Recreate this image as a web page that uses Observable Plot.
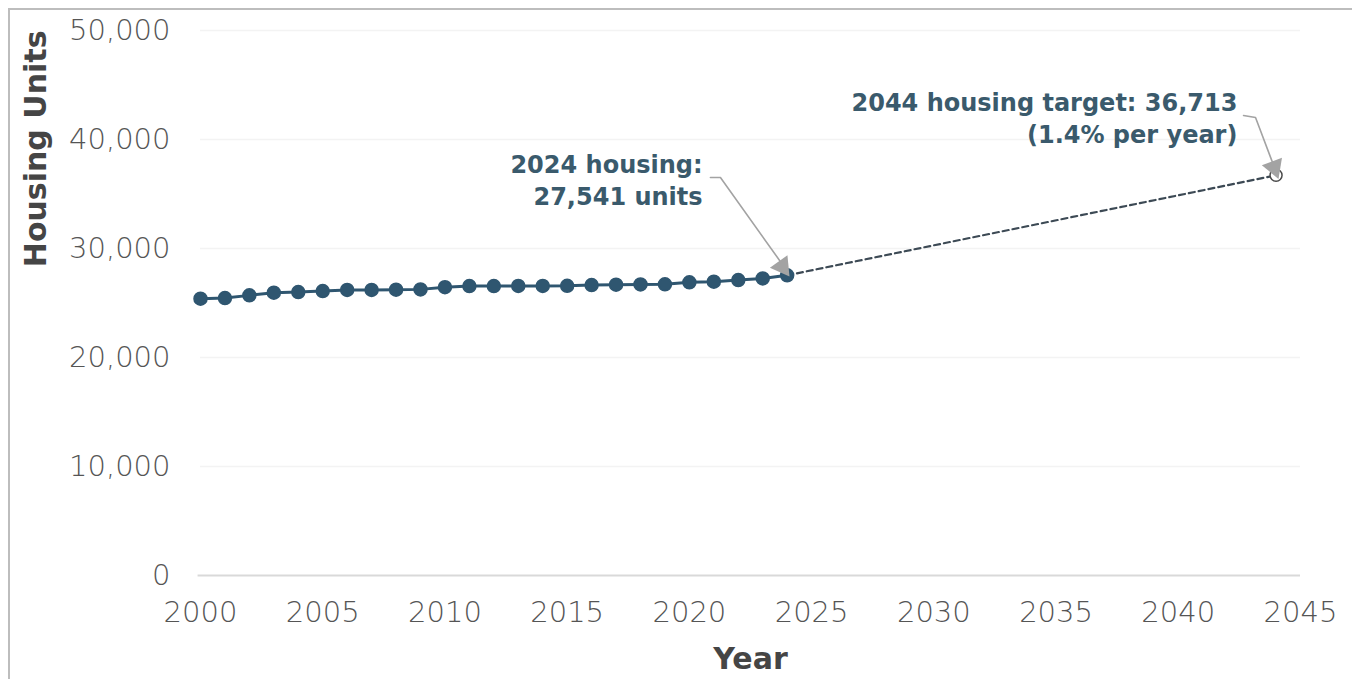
<!DOCTYPE html>
<html>
<head>
<meta charset="utf-8">
<script src="https://cdn.jsdelivr.net/npm/d3@7"></script>
<script src="https://cdn.jsdelivr.net/npm/@observablehq/plot@0.6"></script>
<style>
  html, body { margin: 0; padding: 0; background: #fff; }
  #wrap { position: relative; width: 1354px; height: 679px; overflow: hidden; }
  #border { position: absolute; left: 8px; top: 8px; width: 1344px; height: 700px;
            border-top: 2px solid #bdbdbd; border-left: 2px solid #bdbdbd; box-sizing: border-box; pointer-events: none; }
  #chart { position: absolute; left: 0; top: 0; }
</style>
</head>
<body>
<div id="wrap"><div id="chart"></div><div id="border"></div></div>
<script>
// Historical housing units, 2000–2024
const years = [2000,2001,2002,2003,2004,2005,2006,2007,2008,2009,2010,2011,2012,2013,2014,2015,2016,2017,2018,2019,2020,2021,2022,2023,2024];
const units = [25400,25450,25700,25950,26000,26100,26200,26200,26220,26250,26450,26550,26550,26560,26570,26580,26650,26680,26700,26720,26900,26950,27100,27250,27541];

// Projection to the 2044 target
const projYears = [2024, 2044];
const projUnits = [27541, 36713];

// Axis ticks
const xTicks = [2000,2005,2010,2015,2020,2025,2030,2035,2040,2045];
const yTicks = [0,10000,20000,30000,40000,50000];
const gridTicks = [10000,20000,30000,40000,50000];

// Annotation labels (anchored in data space)
const labelText = ["2024 housing:\n27,541 units", "2044 housing target: 36,713\n(1.4% per year)"];
const labelYear = [2020.54, 2042.42];
const labelValue = [36420, 42110];

// Annotation connectors: elbow start, elbow bend, arrow tip
const conn1Year = [2020.86, 2021.27, 2023.93];
const conn1Value = [36510, 36510, 28150];
const conn2Year = [2042.67, 2043.16, 2043.98];
const conn2Value = [42200, 42020, 37150];
const headYear = [2023.80, 2043.92];
const headValue = [28350, 37450];
const headAngle = [144.5, 159.3];

const hist = years.map((y, i) => ({year: y, units: units[i]}));
const proj = projYears.map((y, i) => ({year: y, units: projUnits[i]}));
const labels = labelText.map((t, i) => ({text: t, year: labelYear[i], value: labelValue[i]}));
const conn1 = conn1Year.map((y, i) => ({year: y, value: conn1Value[i]}));
const conn2 = conn2Year.map((y, i) => ({year: y, value: conn2Value[i]}));
const heads = headYear.map((y, i) => ({year: y, value: headValue[i], angle: headAngle[i]}));

const blue = "#2f5670";
const textBlue = "#3a5a6c";
const gray = "#a3a3a3";

const chart = Plot.plot({
  width: 1354,
  height: 679,
  marginLeft: 200,
  marginRight: 54,
  marginTop: 30,
  marginBottom: 104,
  style: {background: "transparent", fontFamily: "DejaVu Sans"},
  x: {domain: [2000, 2045]},
  y: {domain: [0, 50000]},
  marks: [
    Plot.ruleY(gridTicks, {stroke: "#f3f3f3", strokeWidth: 1.5}),
    Plot.ruleY([0], {stroke: "#d9d9d9", strokeWidth: 2, x1: 1999.9, x2: 2045}),
    Plot.axisX({ticks: xTicks, tickFormat: d => String(d), tickSize: 0, tickPadding: 26,
      fontSize: 29, fill: "#555555", fontWeight: 300, label: null}),
    Plot.axisY({ticks: yTicks, tickFormat: d3.format(","), tickSize: 0, tickPadding: 30,
      fontSize: 29, fill: "#555555", fontWeight: 300, label: null}),
    Plot.text(["Housing Units"], {frameAnchor: "top-left", rotate: -90, textAnchor: "end",
      dx: -176, dy: 0, fontSize: 30, fontWeight: "bold", fill: "#454545"}),
    Plot.text(["Year"], {frameAnchor: "bottom", dy: 93, fontSize: 30, fontWeight: "bold", fill: "#454545"}),
    Plot.line(proj, {x: "year", y: "units", stroke: "#3d4a55", strokeWidth: 2.2, strokeDasharray: "6,4"}),
    Plot.line(hist, {x: "year", y: "units", stroke: blue, strokeWidth: 3}),
    Plot.dot(hist, {x: "year", y: "units", r: 6.5, fill: blue, stroke: blue}),
    Plot.dot(proj.slice(1), {x: "year", y: "units", r: 6, fill: "white", stroke: "#4a4a4a", strokeWidth: 1.5}),
    Plot.line(conn1, {x: "year", y: "value", stroke: gray, strokeWidth: 1.6}),
    Plot.line(conn2, {x: "year", y: "value", stroke: gray, strokeWidth: 1.6}),
    Plot.dot(heads, {x: "year", y: "value", symbol: "triangle", r: 8, fill: gray, rotate: "angle"}),
    Plot.text(labels, {x: "year", y: "value", text: "text", textAnchor: "end", lineAnchor: "middle",
      lineHeight: 1.33, fontSize: 24, fontWeight: "bold", fill: textBlue})
  ]
});
document.getElementById("chart").appendChild(chart);
</script>
</body>
</html>
